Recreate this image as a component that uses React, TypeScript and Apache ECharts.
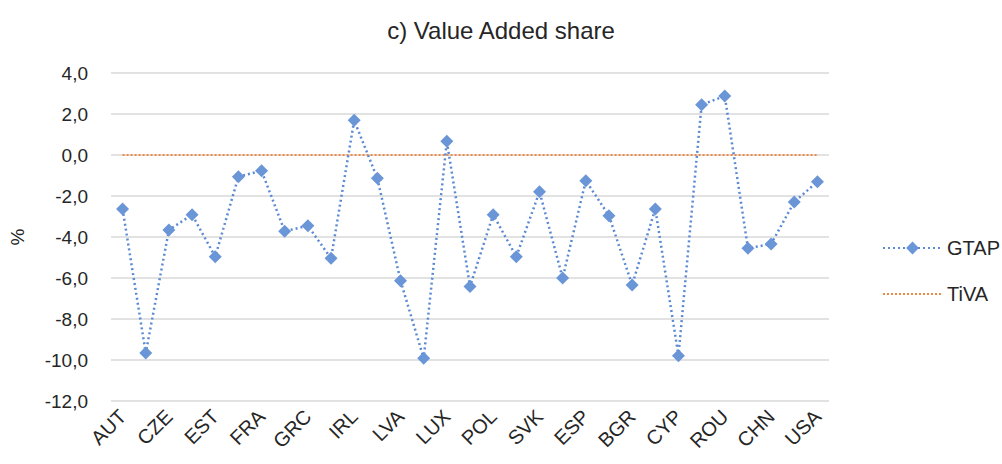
import React, { useEffect, useRef } from "react";
import * as echarts from "echarts";

const categories = [
  "AUT", "BEL", "CZE", "DNK", "EST", "FIN", "FRA", "DEU", "GRC", "HUN", "IRL",
  "ITA", "LVA", "LTU", "LUX", "NLD", "POL", "PRT", "SVK", "SVN", "ESP", "SWE",
  "BGR", "HRV", "CYP", "MLT", "ROU", "GBR", "CHN", "JPN", "USA",
];

const gtap = [
  -2.63, -9.66, -3.66, -2.91, -4.96, -1.06, -0.77, -3.72, -3.45, -5.04, 1.69,
  -1.14, -6.13, -9.92, 0.67, -6.41, -2.91, -4.96, -1.79, -6.0, -1.25, -2.96,
  -6.34, -2.63, -9.79, 2.45, 2.88, -4.55, -4.34, -2.29, -1.3,
];

const tiva = [
  0, 0, 0, 0, 0, 0, 0, 0, 0, 0, 0, 0, 0, 0, 0, 0, 0, 0, 0, 0, 0, 0, 0, 0, 0, 0,
  0, 0, 0, 0, 0,
];

const yTicks = { min: -12, max: 4, interval: 2 };

export default function App() {
  const ref = useRef<HTMLDivElement>(null);
  useEffect(() => {
    const chart = echarts.init(ref.current!, null, { renderer: "svg" });
    const font = "Liberation Sans, Arial, sans-serif";
    const txt = "#262626";
    chart.setOption({
      animation: false,
      textStyle: { fontFamily: font },
      title: {
        text: "c) Value Added share",
        left: "center",
        top: 13,
        textStyle: { fontFamily: font, fontSize: 24, fontWeight: "normal", color: txt },
      },
      grid: { left: 111, right: 173, top: 73, bottom: 63 },
      legend: {
        orient: "vertical",
        left: 877,
        top: 233,
        itemWidth: 59,
        itemHeight: 16,
        itemGap: 26,
        textStyle: { fontFamily: font, fontSize: 20, color: txt },
        data: [
          { name: "GTAP" },
          { name: "TiVA", itemStyle: { opacity: 0 } },
        ],
      },
      xAxis: {
        type: "category",
        data: categories,
        boundaryGap: true,
        axisLine: { show: false },
        axisTick: { show: false },
        axisLabel: {
          interval: 1,
          rotate: 45,
          fontSize: 20,
          color: txt,
          margin: 12,
          fontFamily: font,
        },
      },
      yAxis: {
        type: "value",
        min: yTicks.min,
        max: yTicks.max,
        interval: yTicks.interval,
        name: "%",
        nameLocation: "middle",
        nameGap: 84,
        nameRotate: 90,
        nameTextStyle: { fontSize: 19, color: txt, fontFamily: font },
        axisLabel: {
          fontSize: 19,
          color: txt,
          margin: 23,
          fontFamily: font,
          formatter: (v: number) => v.toFixed(1).replace(".", ","),
        },
        splitLine: { lineStyle: { color: "#d9d9d9", width: 1.5 } },
      },
      series: [
        {
          name: "GTAP",
          type: "line",
          data: gtap,
          symbol: "diamond",
          symbolSize: 13,
          itemStyle: { color: "#6a96d8" },
          lineStyle: { color: "#5a8ad4", width: 2.5, type: [2, 3] },
          z: 3,
        },
        {
          name: "TiVA",
          type: "line",
          data: tiva,
          symbol: "none",
          itemStyle: { color: "#f0a06a" },
          lineStyle: { color: "#ee8a48", width: 2, type: [2, 2] },
          z: 2,
        },
      ],
    });
    return () => chart.dispose();
  }, []);
  return <div ref={ref} style={{ width: 1002, height: 464, position: "absolute", left: 0, top: 0 }} />;
}
